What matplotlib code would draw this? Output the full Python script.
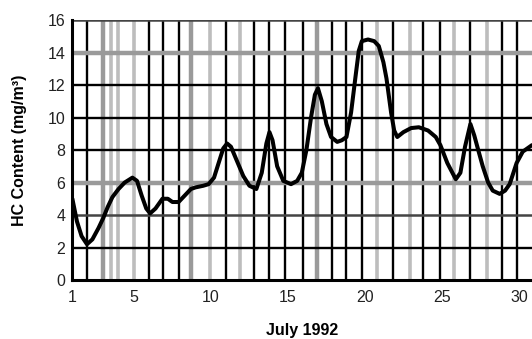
import matplotlib
matplotlib.use("Agg")
import matplotlib.pyplot as plt

plt.rcParams["font.family"] = ["Liberation Sans", "DejaVu Sans"]

# curve (day of July 1992, HC content mg/m3)
days = [1.0, 1.3, 1.6, 1.95, 2.3, 2.7, 3.0, 3.3, 3.6, 4.0, 4.4, 4.9, 5.2, 5.5,
        5.8, 6.05, 6.4, 6.85, 7.2, 7.5, 7.9, 8.3, 8.7, 9.0, 9.5, 9.85, 10.2,
        10.5, 10.8, 11.05, 11.3, 11.7, 12.1, 12.5, 12.95, 13.3, 13.6, 13.8,
        14.0, 14.3, 14.7, 15.2, 15.6, 15.9, 16.2, 16.5, 16.75, 16.95, 17.2,
        17.5, 17.8, 18.2, 18.5, 18.8, 19.1, 19.4, 19.6, 19.8, 20.2, 20.6,
        20.9, 21.2, 21.4, 21.7, 21.9, 22.1, 22.5, 23.0, 23.5, 24.1, 24.6,
        24.9, 25.35, 25.9, 26.2, 26.5, 26.85, 27.1, 27.3, 27.65, 28.0, 28.3,
        28.75, 29.1, 29.4, 29.85, 30.25, 30.85]
hc = [5.0, 3.6, 2.7, 2.2, 2.5, 3.2, 3.8, 4.5, 5.1, 5.6, 6.0, 6.3, 6.1, 5.2,
      4.4, 4.1, 4.4, 5.0, 5.0, 4.8, 4.8, 5.2, 5.6, 5.7, 5.8, 5.9, 6.3,
      7.2, 8.1, 8.4, 8.2, 7.3, 6.4, 5.8, 5.6, 6.6, 8.4, 9.1,
      8.6, 7.0, 6.1, 5.9, 6.1, 6.6, 8.0, 10.0, 11.4, 11.8, 11.0,
      9.6, 8.8, 8.5, 8.6, 8.8, 10.3, 12.6, 14.1, 14.7, 14.8, 14.7,
      14.4, 13.4, 12.4, 10.3, 9.2, 8.8, 9.1, 9.35, 9.4, 9.2, 8.8,
      8.3, 7.2, 6.2, 6.6, 8.2, 9.6, 8.9, 8.2, 7.0, 6.0, 5.5,
      5.3, 5.5, 5.9, 7.2, 7.9, 8.3]

# vertical chart-paper lines: position and shade ("k" black, "g" grey band, "l" light)
vline_pos = [1.93, 3.0, 3.5, 3.95, 5.0, 5.95, 6.9, 7.95, 8.7, 9.95, 11.0, 11.9,
             12.8, 13.8, 14.8, 15.95, 16.9, 17.85, 18.8, 19.8, 20.8, 21.8,
             22.9, 23.8, 24.9, 25.8, 26.8, 27.9, 28.9, 29.9]
vline_kind = ["k", "g", "l", "l", "l", "k", "k", "k", "g", "l", "k", "l",
              "k", "k", "k", "k", "g", "k", "k", "k", "l", "k",
              "l", "k", "k", "l", "k", "l", "k", "k"]

hline_pos = [2, 4, 6, 8, 10, 12, 14, 16]
hline_kind = ["k", "d", "g", "k", "k", "k", "g", "d"]

yticks = [0, 2, 4, 6, 8, 10, 12, 14, 16]
xticks = [1, 5, 10, 15, 20, 25, 30]

STYLE = {
    "k": dict(color="black", linewidth=1.7),
    "d": dict(color="#444444", linewidth=1.8),
    "g": dict(color="#9a9a9a", linewidth=3.2),
    "l": dict(color="#bdbdbd", linewidth=2.6),
}

fig = plt.figure(figsize=(5.32, 3.39), dpi=100)
ax = fig.add_axes([0.136, 0.174, 0.864, 0.767])

for x, kind in zip(vline_pos, vline_kind):
    ax.axvline(x, zorder=1, **STYLE[kind])
for y, kind in zip(hline_pos, hline_kind):
    ax.axhline(y, zorder=1.5, **STYLE[kind])

ax.plot(days, hc, color="black", linewidth=2.9, solid_joinstyle="round",
        solid_capstyle="round", zorder=3)

ax.set_xlim(1, 30.85)
ax.set_ylim(0, 16)
ax.set_xticks(xticks)
ax.set_yticks(yticks)
ax.tick_params(length=0, labelsize=11.5, colors="#222222", pad=5)
ax.tick_params(axis="x", pad=7)

for side in ("top", "right"):
    ax.spines[side].set_visible(False)
for side in ("left", "bottom"):
    ax.spines[side].set_linewidth(2.2)
    ax.spines[side].set_zorder(4)

ax.set_xlabel("July 1992", fontsize=11.5, fontweight="bold", labelpad=13)
ax.set_ylabel("HC Content (mg/m³)", fontsize=11.5, fontweight="bold", labelpad=15)

fig.savefig("out.png", dpi=100)
